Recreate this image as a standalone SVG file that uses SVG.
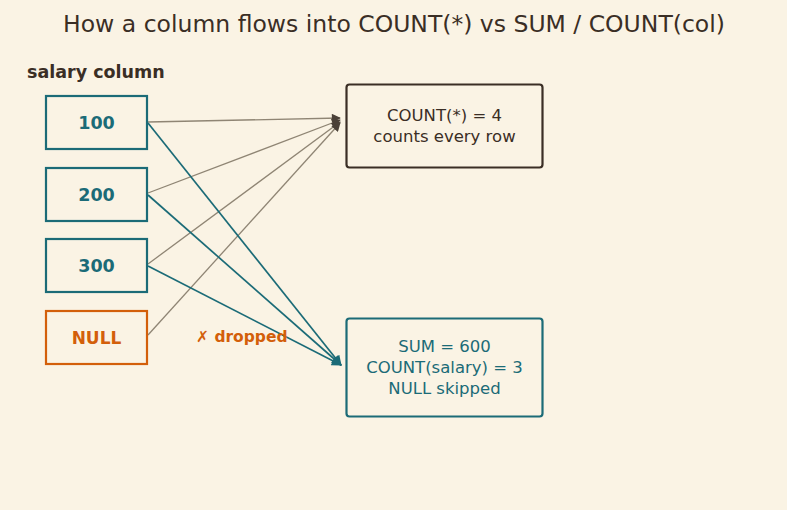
<svg xmlns="http://www.w3.org/2000/svg" width="787" height="510" viewBox="0 0 787 510">
<defs>
<style>
text{font-family:"DejaVu Sans",sans-serif}
.val{fill:#faf3e4;stroke:#1b6b77;stroke-width:2.2}
.vt{fill:#1b6b77;font-size:17.5px;font-weight:bold;text-anchor:middle}
.g{stroke:#8f8574;stroke-width:1.3;fill:none}
.t{stroke:#1b6b77;stroke-width:1.7;fill:none}
.bt{font-size:16.5px;text-anchor:middle}
</style>
<marker id="ag" viewBox="0 0 10 10" refX="9" refY="5" markerWidth="10" markerHeight="9" orient="auto" markerUnits="userSpaceOnUse"><path d="M0,0L10,5L0,10z" fill="#4a4038"/></marker>
<marker id="at" viewBox="0 0 10 10" refX="9" refY="5" markerWidth="12" markerHeight="10" orient="auto" markerUnits="userSpaceOnUse"><path d="M0,0L10,5L0,10z" fill="#1b6b77"/></marker>
</defs>
<rect width="787" height="510" fill="#faf3e4"/>
<text x="394" y="32" font-size="23.5" fill="#3a2e25" text-anchor="middle">How a column flows into COUNT(*) vs SUM / COUNT(col)</text>
<text x="27" y="78" font-size="17.5" font-weight="bold" fill="#3a2e25">salary column</text>
<g id="connectors">
<line class="g" x1="148" y1="122" x2="340" y2="118" marker-end="url(#ag)"/>
<line class="g" x1="148" y1="193" x2="340" y2="120" marker-end="url(#ag)"/>
<line class="g" x1="148" y1="264" x2="340" y2="122" marker-end="url(#ag)"/>
<line class="g" x1="148" y1="335" x2="340" y2="123" marker-end="url(#ag)"/>
<line class="t" x1="148" y1="123" x2="341" y2="365" marker-end="url(#at)"/>
<line class="t" x1="148" y1="195" x2="341" y2="365" marker-end="url(#at)"/>
<line class="t" x1="148" y1="266" x2="341" y2="365" marker-end="url(#at)"/>
</g>
<g id="n100"><rect class="val" x="46" y="96" width="101" height="53"/><text class="vt" x="96.5" y="128.5">100</text></g>
<g id="n200"><rect class="val" x="46" y="168" width="101" height="53"/><text class="vt" x="96.5" y="200.5">200</text></g>
<g id="n300"><rect class="val" x="46" y="239" width="101" height="53"/><text class="vt" x="96.5" y="271.5">300</text></g>
<g id="nnull"><rect x="46" y="311" width="101" height="53" fill="#faf3e4" stroke="#d35f0a" stroke-width="2.2"/><text x="96.5" y="343.5" font-size="17" font-weight="bold" fill="#d35f0a" text-anchor="middle">NULL</text></g>
<text x="196" y="342" font-size="15.5" font-weight="bold" fill="#d35f0a">✗ dropped</text>
<g id="count"><rect x="346.5" y="84.5" width="196" height="83" rx="3" fill="#faf3e4" stroke="#3a2e25" stroke-width="2.2"/>
<text class="bt" x="444.5" y="121" fill="#3a2e25">COUNT(*) = 4</text>
<text class="bt" x="444.5" y="142" fill="#3a2e25">counts every row</text></g>
<g id="sum"><rect x="346.5" y="318.5" width="196" height="98" rx="3" fill="#faf3e4" stroke="#1b6b77" stroke-width="2.2"/>
<text class="bt" x="444.5" y="352" fill="#1b6b77">SUM = 600</text>
<text class="bt" x="444.5" y="373" fill="#1b6b77">COUNT(salary) = 3</text>
<text class="bt" x="444.5" y="394" fill="#1b6b77">NULL skipped</text></g>
</svg>
